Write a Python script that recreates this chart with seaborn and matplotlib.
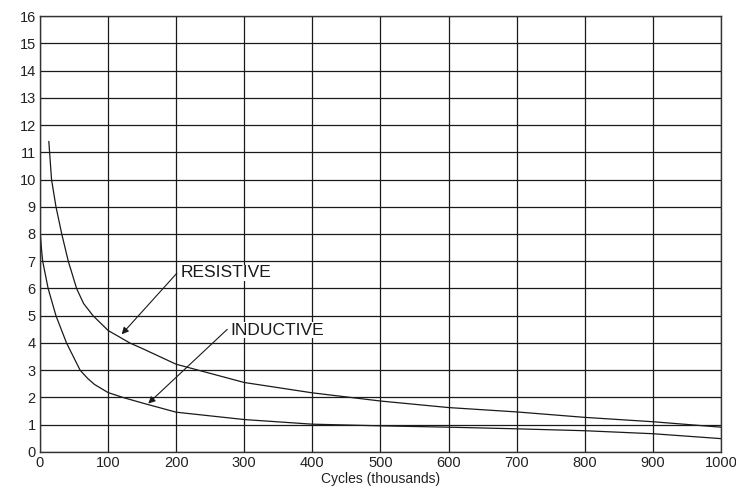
import pandas as pd
import matplotlib
matplotlib.use('Agg')
import matplotlib.pyplot as plt
import seaborn as sns

sns.set_style('white')
plt.rcParams['font.family'] = ['Liberation Sans Narrow', 'Liberation Sans', 'DejaVu Sans']

# values
resistive_x = [13, 17, 23.5, 32, 41.6, 53.8, 64, 78, 100, 132, 150, 200, 300, 400, 500, 600, 700, 800, 900, 1000]
resistive_y = [11.4, 10, 9, 8, 7, 6, 5.45, 5, 4.46, 4, 3.8, 3.22, 2.55, 2.17, 1.87, 1.63, 1.47, 1.27, 1.11, 0.91]

inductive_x = [0.5, 2.4, 4, 12, 23.5, 39, 50, 59, 70, 80, 100, 122, 150, 200, 300, 400, 500, 600, 700, 800, 900, 1000]
inductive_y = [8.0, 7.4, 7, 6, 5, 4, 3.45, 3, 2.7, 2.48, 2.18, 2, 1.8, 1.46, 1.19, 1.02, 0.96, 0.91, 0.85, 0.78, 0.67, 0.49]

x_ticks = list(range(0, 1001, 100))
y_ticks = list(range(0, 17))

df = pd.concat([
    pd.DataFrame({'x': resistive_x, 'y': resistive_y, 'load': 'RESISTIVE'}),
    pd.DataFrame({'x': inductive_x, 'y': inductive_y, 'load': 'INDUCTIVE'}),
])

fig = plt.figure(figsize=(7.36, 4.9), dpi=100)
ax = fig.add_axes([0.0543, 0.0776, 0.9253, 0.8897])

sns.lineplot(data=df, x='x', y='y', units='load', estimator=None, sort=False,
             color='#1a1a1a', linewidth=0.9, ax=ax, legend=False)

ax.set_xlim(0, 1000)
ax.set_ylim(0, 16)
ax.set_xticks(x_ticks)
ax.set_yticks(y_ticks)
ax.tick_params(length=0, labelsize=10.5, pad=3, colors='#222222')
ax.grid(True, color='#1a1a1a', linewidth=0.9)
ax.set_axisbelow(True)
for s in ax.spines.values():
    s.set_color('#333333')
    s.set_linewidth(1.0)

ax.set_xlabel('Cycles (thousands)', fontsize=10, color='#222222', labelpad=1)
ax.set_ylabel('')

arrow = dict(arrowstyle='-|>', color='#1a1a1a', lw=0.8, mutation_scale=10, shrinkA=0, shrinkB=0)
ax.annotate('', xy=(120, 4.32), xytext=(201, 6.56), arrowprops=arrow)
ax.text(206, 6.57, 'RESISTIVE', fontsize=12.5, va='center', ha='left', color='#1a1a1a',
        bbox=dict(facecolor='white', edgecolor='none', pad=0.5))
ax.annotate('', xy=(159, 1.78), xytext=(275, 4.5), arrowprops=arrow)
ax.text(279, 4.47, 'INDUCTIVE', fontsize=12.5, va='center', ha='left', color='#1a1a1a',
        bbox=dict(facecolor='white', edgecolor='none', pad=0.5))

fig.savefig('out.png', dpi=100)
